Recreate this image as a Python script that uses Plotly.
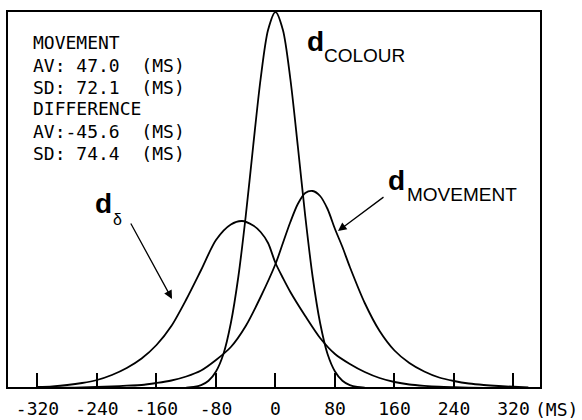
import plotly.graph_objects as go

# ---- data (heights in arbitrary units) ----
colour_x = [-120, -110, -100, -90, -80, -70, -60, -50, -40, -30, -20, -10, 0,
            10, 20, 30, 40, 50, 60, 70, 80, 90, 100, 110, 120]
colour_y = [0.3, 1, 2.8, 7.2, 16.5, 34, 65, 111, 172, 242, 309, 358, 376,
            358, 309, 242, 172, 111, 65, 34, 16.5, 7.2, 2.8, 1, 0.3]

movement_x = [-320, -300, -280, -260, -240, -220, -200, -180, -160, -140, -120, -100,
              -80, -60, -40, -20, 0, 10, 20, 30, 40, 50, 60, 70, 80, 90, 100,
              120, 140, 160, 180, 200, 220, 240, 260, 280, 300, 320, 340]
movement_y = [0, 0.2, 0.3, 0.5, 1, 1.5, 2.3, 3, 5, 7.5, 11.5, 17.5,
              28, 41, 62, 91, 124, 145, 166, 184, 195, 197, 192, 179, 159, 141, 121,
              85, 57, 37.5, 25, 16.5, 10.5, 7, 4.5, 3, 2, 1.3, 0.7]

delta_x = [-320, -300, -280, -260, -240, -220, -200, -180, -160, -140, -120, -100,
           -80, -60, -45, -30, -20, -10, 0, 10, 20, 40, 60, 80, 100, 120, 140,
           160, 180, 200, 220, 240, 260, 280]
delta_y = [1, 1.7, 3, 5, 8, 13, 20, 29.5, 43, 62, 88.5, 118,
           148, 163.5, 167, 162.5, 156, 145, 125, 110, 96, 72, 50, 34, 24, 16, 10,
           6, 3.5, 2.2, 1.3, 0.8, 0.4, 0.2]

tick_vals = [-320, -240, -160, -80, 0, 80, 160, 240, 320]
tick_text = ["-320", "-240", "-160", "-80", "0", "80", "160", "240", "320"]

info_lines = ["MOVEMENT", "AV: 47.0  (MS)", "SD: 72.1  (MS)",
              "DIFFERENCE", "AV:-45.6  (MS)", "SD: 74.4  (MS)"]

# ---- layout geometry ----
W, H = 582, 420
L, R, T, B = 7, 41, 11, 32
XR = [-361, 357]
YR = [0, 377]
pw, ph = W - L - R, H - T - B

def px_x(xp):  # pixel -> paper
    return (xp - L) / pw

def px_y(yp):
    return (H - B - yp) / ph

def dx(xp):  # pixel -> data
    return XR[0] + (xp - L) / pw * (XR[1] - XR[0])

def dy(yp):
    return YR[0] + (H - B - yp) / ph * (YR[1] - YR[0])

line = dict(color="black", width=1.8, shape="spline", smoothing=0.8)
fig = go.Figure()
for xs, ys in [(colour_x, colour_y), (movement_x, movement_y), (delta_x, delta_y)]:
    fig.add_trace(go.Scatter(x=xs, y=ys, mode="lines", line=line,
                             hoverinfo="skip", showlegend=False))

mono = dict(family="DejaVu Sans Mono", size=18, color="black")
ann = []
ys_info = [42, 65, 87, 108, 131, 153]
for txt, yp in zip(info_lines, ys_info):
    ann.append(dict(text=txt, xref="paper", yref="paper", x=px_x(31), y=px_y(yp),
                    xanchor="left", yanchor="middle", showarrow=False, font=mono))

ann.append(dict(text="(MS)", xref="paper", yref="paper", x=px_x(533), y=px_y(409),
                xanchor="left", yanchor="middle", showarrow=False, font=mono))

big = dict(family="Liberation Sans", size=28, color="black")
sub = dict(family="Liberation Sans", size=19, color="black")
labels = [
    ("<b>d</b>", 305, 41, big), ("COLOUR", 322, 55, sub),
    ("<b>d</b>", 386, 180, big), ("MOVEMENT", 405, 194, sub),
    ("<b>d</b>", 93, 203, big), ("δ", 111, 220, dict(family="Liberation Sans", size=16, color="black")),
]
for txt, xp, yp, f in labels:
    ann.append(dict(text=txt, xref="paper", yref="paper", x=px_x(xp), y=px_y(yp),
                    xanchor="left", yanchor="middle", showarrow=False, font=f))

for tip, tail in [((338, 231), (385, 196)), ((172, 299), (130, 222))]:
    ann.append(dict(text="", xref="x", yref="y", axref="x", ayref="y",
                    x=dx(tip[0]), y=dy(tip[1]), ax=dx(tail[0]), ay=dy(tail[1]),
                    showarrow=True, arrowhead=2, arrowsize=1.3, arrowwidth=1.3,
                    arrowcolor="black", standoff=0))

fig.update_layout(
    width=W, height=H, margin=dict(l=L, r=R, t=T, b=B, autoexpand=False),
    paper_bgcolor="white", plot_bgcolor="white",
    annotations=ann,
    shapes=[dict(type="rect", xref="paper", yref="paper", x0=0, y0=0, x1=1, y1=1,
                 line=dict(color="black", width=2))],
    xaxis=dict(range=XR, tickmode="array", tickvals=tick_vals, ticktext=tick_text,
               ticks="inside", ticklen=15, tickwidth=1.5, tickcolor="black",
               showgrid=False, zeroline=False, showline=False, automargin=False,
               tickfont=mono, ticklabelstandoff=8),
    yaxis=dict(range=YR, showticklabels=False, showgrid=False, zeroline=False,
               ticks="", showline=False, automargin=False),
)

fig.write_html("out.html")
